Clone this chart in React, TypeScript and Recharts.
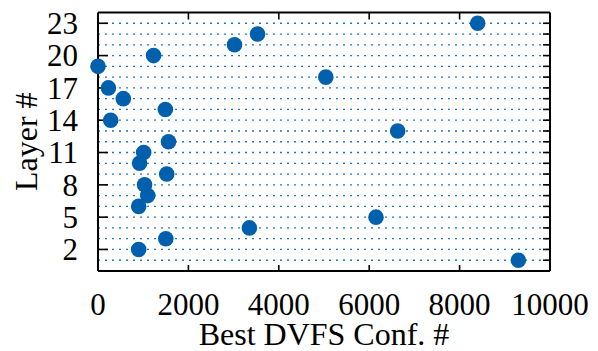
import React from 'react';
import { ScatterChart, Scatter, XAxis, YAxis, ReferenceLine, Label } from 'recharts';

const layers = [1, 2, 3, 4, 5, 6, 7, 8, 9, 10, 11, 12, 13, 14, 15, 16, 17, 18, 19, 20, 21, 22, 23];
const bestConf = [9300, 900, 1500, 3350, 6150, 900, 1100, 1030, 1520, 920, 1010, 1560, 6630, 280, 1490, 560, 230, 5040, 0, 1230, 3020, 3530, 8400];
const xTicks = [0, 2000, 4000, 6000, 8000, 10000];
const yTicks = [2, 5, 8, 11, 14, 17, 20, 23];
const xLabel = 'Best DVFS Conf. #';
const yLabel = 'Layer #';

const data = layers.map((l, i) => ({ layer: l, conf: bestConf[i] }));

const FONT = '"Liberation Serif", "Times New Roman", serif';
const BLUE = '#0060ad';
const FS = 31;

const Dot = (props: any) => <circle cx={props.cx} cy={props.cy} r={7.8} fill={BLUE} />;

const BottomTick = (props: any) => {
  const { x, y, payload } = props;
  return (
    <text x={x} y={y + 44} textAnchor="middle" fill="#000" fontSize={FS} fontFamily={FONT}>{payload.value}</text>
  );
};

const LeftTick = (props: any) => {
  const { x, y, payload } = props;
  return (
    <text x={x - 20} y={y} dy="0.35em" textAnchor="end" fill="#000" fontSize={FS} fontFamily={FONT}>{payload.value}</text>
  );
};

const hMarks = (major: boolean) => (p: any) => {
  const vb = p.viewBox || {};
  const x0 = vb.x;
  const x1 = vb.x + vb.width;
  const y = vb.y;
  return (
    <g>
      {major && <line x1={x0} x2={x0 + 10} y1={y} y2={y} stroke="#000" strokeWidth={1.6} />}
      <line x1={x1 - 7} x2={x1} y1={y} y2={y} stroke="#000" strokeWidth={1.6} />
    </g>
  );
};

const vMarks = (p: any) => {
  const vb = p.viewBox || {};
  const x = vb.x;
  const y0 = vb.y;
  const y1 = vb.y + vb.height;
  return (
    <g>
      <line x1={x} x2={x} y1={y0} y2={y0 + 7} stroke="#000" strokeWidth={1.6} />
      <line x1={x} x2={x} y1={y1 - 6} y2={y1} stroke="#000" strokeWidth={1.6} />
    </g>
  );
};

export default function App() {
  return (
    <div style={{ position: 'absolute', left: 0, top: 0 }}>
      <ScatterChart width={598} height={351} margin={{ top: 0.5, right: 8, bottom: 0, left: 0 }} style={{ fontFamily: FONT }}>
        <XAxis xAxisId="x" dataKey="conf" type="number" domain={[0, 10000]} ticks={xTicks} interval={0}
          height={80} tickSize={0} tickMargin={0} tickLine={false}
          axisLine={{ stroke: '#000', strokeWidth: 2 }} tick={<BottomTick />}>
          <Label value={xLabel} position="insideBottom" offset={6} style={{ fill: '#000', fontSize: 32, fontFamily: FONT }} />
        </XAxis>
        <XAxis xAxisId="top" orientation="top" type="number" domain={[0, 10000]} ticks={xTicks} interval={0}
          height={12} tick={false} tickLine={false}
          axisLine={{ stroke: '#000', strokeWidth: 2 }} />
        <YAxis yAxisId="y" dataKey="layer" type="number" domain={[0, 24]} ticks={yTicks} interval={0}
          width={98} tickSize={0} tickMargin={0} tickLine={false}
          axisLine={{ stroke: '#000', strokeWidth: 2 }} tick={<LeftTick />}>
          <Label value={yLabel} angle={-90} position="center" dx={-23} style={{ fill: '#000', fontSize: 32, fontFamily: FONT, textAnchor: 'middle' }} />
        </YAxis>
        <YAxis yAxisId="r" orientation="right" type="number" domain={[0, 24]} ticks={layers} interval={0}
          width={40} tick={false} tickLine={false}
          axisLine={{ stroke: '#000', strokeWidth: 2 }} />
        {layers.map((l) => (
          <ReferenceLine key={'g' + l} xAxisId="x" yAxisId="y" y={l} stroke={BLUE} strokeOpacity={0.85} strokeWidth={1.3} strokeDasharray="2 5"
            label={{ content: hMarks(yTicks.includes(l)) }} />
        ))}
        {xTicks.slice(1, -1).map((v) => (
          <ReferenceLine key={'v' + v} xAxisId="x" yAxisId="y" x={v} stroke="none" strokeOpacity={0}
            label={{ content: vMarks }} />
        ))}
        <Scatter xAxisId="x" yAxisId="y" data={data} dataKey="layer" shape={Dot} isAnimationActive={false} />
      </ScatterChart>
    </div>
  );
}
